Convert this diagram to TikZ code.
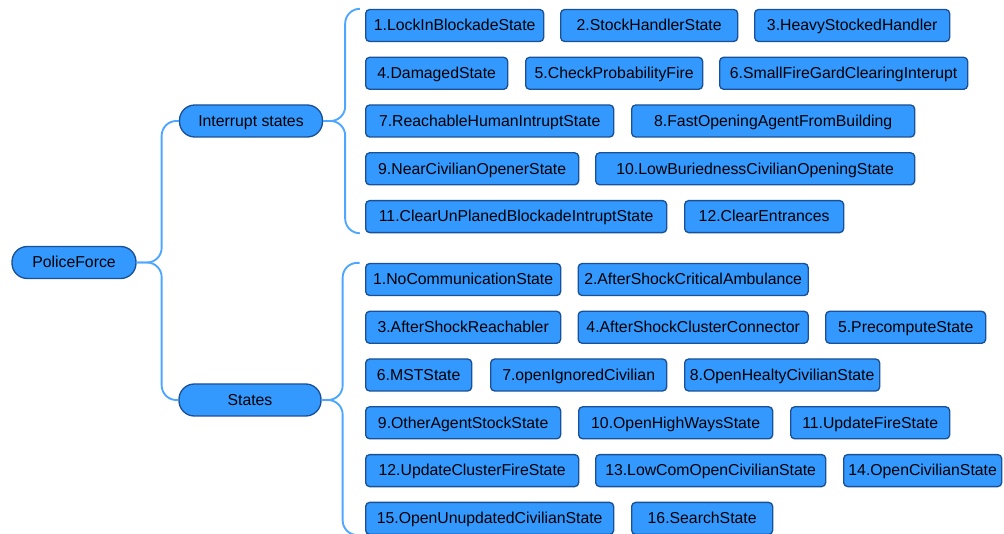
\documentclass[tikz,border=0pt]{standalone}
\usepackage{fontspec}
\setmainfont{Liberation Sans}
\usepackage{tikz}
\usepackage{xcolor}

\definecolor{boxfill}{RGB}{51,153,255}
\definecolor{boxline}{RGB}{25,80,150}
\definecolor{linkblue}{RGB}{77,166,255}

\tikzset{
  statebox/.style={draw=boxline, fill=boxfill, line width=1pt, rounded corners=3pt,
    anchor=west, minimum height=24pt, inner sep=0pt, text height=8.5pt, text depth=0.5pt},
  boxw/.style={minimum width=#1*0.75pt},
  topic/.style={draw=boxline, fill=boxfill, line width=1pt, rounded corners=11.5pt,
    minimum height=24pt, inner sep=0pt, text height=8.5pt, text depth=0.5pt},
  link/.style={draw=linkblue, line width=1.4pt, rounded corners=11pt}
}

\begin{document}
\begin{tikzpicture}[x=0.75pt, y=-0.75pt, font=\fontsize{11.85pt}{14pt}\selectfont]

		\useasboundingbox (0,0) rectangle (1004,534);

		% root and the two groups
		\node[topic, boxw=124] (pf) at (74,262.5) {PoliceForce};
		\node[topic, boxw=143] (ist) at (251,121) {Interrupt states};
		\node[topic, boxw=142] (st) at (250,400) {States};

		% interrupt states
		\node[statebox, boxw=178] (i1) at (365,25.5) {1.LockInBlockadeState};
		\node[statebox, boxw=177] (i2) at (560,25.5) {2.StockHandlerState};
		\node[statebox, boxw=195] (i3) at (754,25.5) {3.HeavyStockedHandler};
		\node[statebox, boxw=142] (i4) at (365,73.3) {4.DamagedState};
		\node[statebox, boxw=177] (i5) at (525,73.3) {5.CheckProbabilityFire};
		\node[statebox, boxw=248] (i6) at (719,73.3) {6.SmallFireGardClearingInterupt};
		\node[statebox, boxw=248] (i7) at (365,121) {7.ReachableHumanIntruptState};
		\node[statebox, boxw=283] (i8) at (631,121) {8.FastOpeningAgentFromBuilding};
		\node[statebox, boxw=213] (i9) at (365,168.8) {9.NearCivilianOpenerState};
		\node[statebox, boxw=319] (i10) at (595,168.8) {10.LowBuriednessCivilianOpeningState};
		\node[statebox, boxw=301] (i11) at (365,216.6) {11.ClearUnPlanedBlockadeIntruptState};
		\node[statebox, boxw=159] (i12) at (684,216.6) {12.ClearEntrances};

		% states
		\node[statebox, boxw=195] (s1) at (365,279.5) {1.NoCommunicationState};
		\node[statebox, boxw=230] (s2) at (577.5,279.5) {2.AfterShockCriticalAmbulance};
		\node[statebox, boxw=195] (s3) at (365,327.3) {3.AfterShockReachabler};
		\node[statebox, boxw=230] (s4) at (577.5,327.3) {4.AfterShockClusterConnector};
		\node[statebox, boxw=160] (s5) at (825,327.3) {5.PrecomputeState};
		\node[statebox, boxw=106] (s6) at (365,375) {6.MSTState};
		\node[statebox, boxw=176] (s7) at (490,375) {7.openIgnoredCivilian};
		\node[statebox, boxw=195] (s8) at (684,375) {8.OpenHealtyCivilianState};
		\node[statebox, boxw=195] (s9) at (365,422.8) {9.OtherAgentStockState};
		\node[statebox, boxw=194] (s10) at (578,422.8) {10.OpenHighWaysState};
		\node[statebox, boxw=159] (s11) at (790,422.8) {11.UpdateFireState};
		\node[statebox, boxw=213] (s12) at (365,470.6) {12.UpdateClusterFireState};
		\node[statebox, boxw=230] (s13) at (595,470.6) {13.LowComOpenCivilianState};
		\node[statebox, boxw=158] (s14) at (843,470.6) {14.OpenCivilianState};
		\node[statebox, boxw=248] (s15) at (365,518.4) {15.OpenUnupdatedCivilianState};
		\node[statebox, boxw=141] (s16) at (631,518.4) {16.SearchState};

		% brace ends
		\coordinate (itop) at ([xshift=-4pt]i1.north west);
		\coordinate (ibot) at ([xshift=-4pt]i11.south west);
		\coordinate (stop) at ([xshift=-4pt]s1.north west);
		\coordinate (sbot) at ([xshift=-4pt]s15.south west);

		\draw[link] (pf.east) -- ++(25,0) |- (ist.west);
		\draw[link] (pf.east) -- ++(25,0) |- (st.west);

		\draw[link] (ist.east) -- ++(22,0) |- (itop);
		\draw[link] (ist.east) -- ++(22,0) |- (ibot);
		\draw[link] (st.east) -- ++(21,0) |- (stop);
		\draw[link] (st.east) -- ++(21,0) |- (sbot);

	\end{tikzpicture}
\end{document}
